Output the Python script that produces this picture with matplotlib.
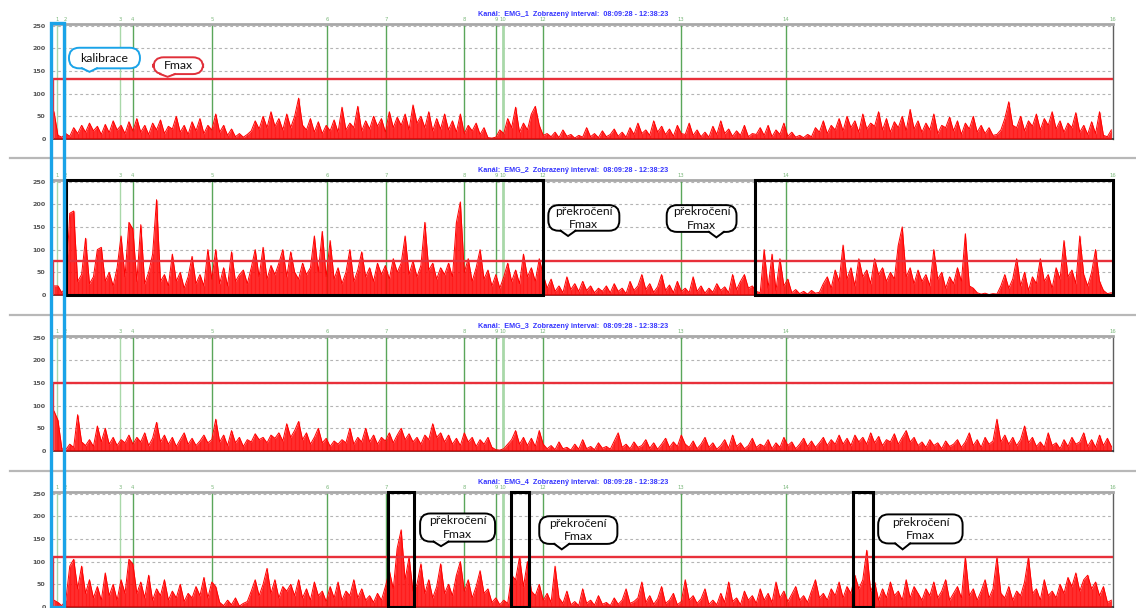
import numpy as np
import matplotlib
matplotlib.use("Agg")
import matplotlib.pyplot as plt
from matplotlib.patches import Rectangle, FancyBboxPatch, Polygon
from matplotlib.lines import Line2D
from matplotlib.transforms import offset_copy, blended_transform_factory

# ---------------- data ----------------
channels = ["EMG_1", "EMG_2", "EMG_3", "EMG_4"]
interval_text = "08:09:28 - 12:38:23"
interval_min = 268.92          # length of displayed interval in minutes
fmax = [132, 75, 150, 110]     # threshold (Fmax) per channel
y_ticks = [0, 50, 100, 150, 200, 250]

marker_labels = ["1", "2", "3", "4", "5", "6", "7", "8", "9", "10", "12", "13", "14", "16"]
marker_t = [1.3, 3.3, 17.2, 20.5, 40.6, 69.7, 84.7, 104.4, 112.5, 114.3, 124.4, 159.4, 186.0, 268.9]
marker_light = [1, 1, 1, 0, 0, 0, 0, 0, 0, 1, 0, 0, 0, 0]

# EMG envelope, one value per minute
emg1 = [60, 8, 4, 12, 6, 25, 12, 30, 15, 35, 18, 28, 10, 32, 14, 40, 20, 30, 12, 38,
        18, 45, 15, 30, 10, 35, 20, 42, 12, 28, 22, 50, 15, 30, 10, 38, 18, 45, 12, 30,
        20, 55, 15, 30, 8, 22, 5, 12, 4, 10, 18, 40, 22, 50, 25, 60, 28, 45, 20, 55,
        25, 50, 90, 30, 20, 45, 15, 38, 12, 30, 18, 42, 15, 70, 20, 35, 25, 72, 18, 40,
        22, 50, 28, 45, 15, 60, 25, 48, 30, 55, 20, 75, 35, 50, 25, 60, 18, 45, 22, 55,
        20, 40, 15, 55, 12, 30, 18, 35, 10, 25, 3, 2, 4, 20, 12, 45, 25, 70, 15, 35,
        20, 55, 72, 30, 8, 12, 5, 15, 3, 20, 6, 10, 2, 8, 4, 25, 5, 12, 3, 18,
        5, 10, 22, 6, 15, 4, 25, 10, 35, 12, 20, 8, 40, 15, 28, 10, 22, 6, 30, 12,
        10, 35, 8, 20, 5, 15, 4, 28, 10, 40, 12, 22, 6, 18, 8, 30, 5, 12, 10, 25,
        8, 30, 5, 20, 10, 35, 6, 15, 4, 8, 3, 10, 5, 25, 15, 40, 12, 30, 20, 45,
        18, 50, 25, 40, 15, 55, 22, 35, 28, 60, 20, 45, 15, 38, 25, 50, 18, 65, 22, 40,
        15, 35, 20, 55, 12, 30, 25, 48, 18, 40, 10, 35, 22, 50, 15, 30, 12, 25, 8, 10,
        20, 45, 82, 30, 25, 50, 18, 40, 28, 55, 20, 45, 30, 60, 22, 40, 15, 35, 25, 58,
        15, 30, 10, 38, 12, 60, 8, 5, 20]

emg2 = [20, 20, 5, 18, 180, 185, 30, 45, 125, 25, 40, 100, 105, 30, 50, 20, 60, 130, 40, 160,
        145, 30, 155, 25, 50, 90, 210, 30, 45, 20, 90, 30, 50, 15, 40, 85, 25, 45, 20, 100,
        35, 100, 25, 60, 20, 95, 30, 45, 55, 25, 60, 100, 40, 105, 35, 65, 45, 70, 100, 40,
        95, 50, 35, 70, 45, 60, 130, 50, 140, 40, 120, 35, 60, 25, 50, 100, 30, 55, 95, 40,
        60, 30, 70, 45, 65, 35, 80, 50, 70, 130, 45, 75, 40, 65, 160, 55, 70, 35, 60, 45,
        70, 40, 160, 205, 50, 80, 30, 60, 100, 35, 55, 20, 45, 15, 40, 70, 30, 55, 25, 90,
        40, 60, 30, 80, 45, 15, 35, 8, 20, 5, 40, 12, 25, 8, 30, 10, 20, 5, 15, 8,
        20, 5, 25, 8, 15, 3, 30, 10, 20, 45, 12, 25, 6, 18, 45, 10, 22, 5, 30, 8,
        15, 5, 40, 8, 20, 4, 15, 6, 25, 10, 18, 5, 45, 12, 30, 45, 15, 20, 8, 5,
        100, 15, 90, 10, 80, 20, 35, 5, 12, 3, 8, 2, 10, 4, 6, 25, 40, 15, 55, 30,
        110, 35, 60, 20, 80, 40, 55, 25, 80, 45, 60, 30, 50, 35, 110, 150, 40, 60, 25, 55,
        30, 45, 20, 100, 35, 50, 15, 40, 25, 60, 30, 135, 20, 15, 5, 2, 4, 1, 3, 2,
        20, 45, 15, 35, 80, 20, 50, 10, 40, 25, 80, 30, 45, 15, 60, 35, 120, 40, 55, 25,
        130, 45, 20, 50, 100, 30, 10, 3, 5]

emg3 = [88, 68, 5, 3, 15, 8, 80, 20, 12, 25, 10, 55, 20, 50, 15, 30, 12, 25, 18, 35,
        15, 30, 20, 40, 12, 28, 63, 20, 35, 15, 30, 10, 25, 40, 15, 28, 12, 22, 35, 18,
        25, 70, 20, 35, 12, 45, 18, 30, 10, 25, 20, 38, 25, 30, 18, 35, 28, 40, 22, 60,
        30, 45, 65, 25, 40, 15, 30, 50, 18, 28, 10, 22, 15, 25, 18, 50, 15, 30, 20, 50,
        20, 35, 15, 30, 22, 40, 18, 35, 50, 25, 38, 20, 30, 15, 35, 25, 60, 30, 40, 20,
        35, 15, 28, 12, 40, 20, 30, 10, 25, 15, 30, 8, 3, 2, 5, 15, 25, 45, 15, 30,
        12, 28, 10, 45, 15, 5, 12, 3, 20, 5, 8, 2, 15, 4, 25, 5, 10, 3, 18, 6,
        10, 4, 22, 40, 8, 15, 5, 20, 8, 12, 25, 6, 18, 4, 15, 28, 8, 20, 10, 35,
        15, 8, 22, 5, 15, 30, 8, 18, 4, 12, 25, 6, 35, 10, 18, 5, 12, 28, 8, 15,
        10, 25, 5, 18, 8, 30, 12, 20, 5, 15, 28, 10, 22, 8, 18, 30, 12, 25, 15, 35,
        15, 28, 12, 35, 20, 30, 15, 40, 18, 32, 12, 25, 20, 38, 15, 30, 45, 20, 30, 12,
        20, 8, 25, 12, 18, 5, 22, 10, 15, 25, 8, 20, 40, 12, 25, 8, 30, 15, 22, 70,
        20, 35, 15, 30, 12, 25, 55, 18, 30, 10, 20, 8, 40, 12, 18, 5, 25, 10, 30, 15,
        20, 40, 10, 25, 8, 35, 12, 28, 10]

emg4 = [15, 10, 3, 15, 90, 105, 40, 90, 30, 60, 20, 45, 15, 75, 25, 50, 15, 60, 30, 105,
        95, 30, 55, 20, 70, 15, 40, 25, 60, 15, 35, 20, 50, 12, 30, 20, 45, 25, 65, 20,
        55, 45, 10, 3, 15, 5, 20, 2, 8, 12, 35, 60, 25, 50, 85, 30, 60, 20, 45, 35,
        50, 25, 60, 20, 40, 15, 55, 25, 35, 12, 45, 20, 55, 15, 35, 25, 60, 20, 40, 15,
        25, 10, 30, 15, 45, 80, 40, 130, 170, 60, 110, 35, 50, 95, 30, 60, 20, 45, 95, 30,
        50, 25, 70, 100, 35, 60, 20, 45, 80, 30, 40, 10, 20, 5, 15, 8, 70, 60, 110, 45,
        100, 35, 25, 50, 15, 30, 10, 90, 20, 8, 35, 5, 12, 3, 40, 8, 15, 4, 25, 6,
        10, 3, 20, 6, 15, 40, 8, 12, 20, 55, 10, 25, 6, 18, 45, 8, 15, 30, 5, 12,
        60, 15, 25, 8, 18, 40, 6, 15, 5, 30, 10, 55, 12, 20, 5, 35, 15, 25, 8, 40,
        15, 30, 10, 55, 20, 35, 12, 28, 45, 15, 25, 10, 35, 60, 20, 30, 15, 40, 25, 55,
        20, 45, 30, 70, 40, 60, 125, 35, 55, 15, 40, 20, 55, 25, 35, 15, 60, 20, 45, 30,
        15, 40, 25, 55, 20, 35, 60, 15, 30, 45, 20, 110, 25, 40, 15, 35, 60, 20, 40, 110,
        30, 20, 45, 15, 35, 25, 55, 110, 30, 40, 15, 60, 25, 35, 20, 50, 30, 65, 45, 75,
        35, 60, 70, 40, 55, 25, 45, 10, 15]

signals = [emg1, emg2, emg3, emg4]

# boxes marking threshold exceedance (panel index, start min, end min)
exceed_panel = [1, 1, 3, 3, 3]
exceed_start = [3.55, 178.2, 85.1, 116.3, 203.0]
exceed_end = [124.4, 268.9, 91.7, 120.9, 208.1]

# ---------------- figure ----------------
W, H = 1136, 608
fig = plt.figure(figsize=(W / 100, H / 100), dpi=100)
fig.patch.set_facecolor("white")

YMAX = 254
ax_left_px, ax_right_px = 52, 1113
ax_h_px = 115.3
axes = []
for k in range(4):
    bottom_px = 139 + 156 * k
    ax = fig.add_axes([ax_left_px / W, 1 - bottom_px / H,
                       (ax_right_px - ax_left_px) / W, ax_h_px / H])
    axes.append(ax)

ASPECT = ((ax_right_px - ax_left_px) / interval_min) / (ax_h_px / YMAX)

RED = "#ff0000"
PINK = "#ff9a9a"
GREEN = "#5aa65a"
LGREEN = "#a9d8a9"


def bubble(ax, x0, x1, y0, y1, tip_x, tip_y, text, ec, fs=8.8):
    box = FancyBboxPatch((x0, y0), x1 - x0, y1 - y0,
                         boxstyle="round,pad=0,rounding_size=2.6",
                         mutation_aspect=ASPECT, fc="white", ec=ec, lw=1.4, zorder=6)
    ax.add_patch(box)
    hw = 1.9
    ax.add_patch(Polygon([(tip_x - hw, y0 + 3), (tip_x + hw, y0 + 3), (tip_x, tip_y)],
                         closed=True, fc="white", ec="none", zorder=7))
    ax.plot([tip_x - hw, tip_x, tip_x + hw], [y0, tip_y, y0], color=ec, lw=1.4,
            zorder=8, solid_joinstyle="miter")
    ax.text((x0 + x1) / 2, (y0 + y1) / 2, text, ha="center", va="center",
            fontsize=fs, family="Lato", zorder=9, linespacing=1.3, color="#111111")


for k, ax in enumerate(axes):
    emg = np.array(signals[k], dtype=float)
    t = np.arange(len(emg)) + 0.5

    ax.set_xlim(0, interval_min)
    ax.set_ylim(0, YMAX)
    ax.set_facecolor("white")

    # grid
    for yv in y_ticks[1:]:
        ax.axhline(yv, color="#b4b4b4", lw=0.8, ls=(0, (2.5, 2.5)), zorder=0.5)

    # markers
    for lab, mt, light in zip(marker_labels, marker_t, marker_light):
        if lab != "16":
            ax.axvline(mt, color=LGREEN if light else GREEN,
                       lw=2.0 if lab == "10" else 1.0, zorder=1)
        ax.text(mt, 1.0, lab, transform=offset_copy(
            blended_transform_factory(ax.transData, ax.transAxes), fig, y=1.5, units="dots"),
            ha="center", va="bottom", fontsize=3.8, color="#7cb87c")

    # signal: pink needles, red filled trace
    ax.vlines(t, 0, emg, color=PINK, lw=1.0, zorder=2)
    ax.fill_between(t, 0, emg, color=RED, lw=0, alpha=0.82, zorder=3)
    ax.plot(t, emg, color=RED, lw=0.7, zorder=3)

    # Fmax threshold
    ax.plot([0.15, 0.15, interval_min], [0, fmax[k], fmax[k]], color="#e8303a",
            lw=1.7, zorder=4)

    # axes styling
    ax.spines["left"].set_visible(False)
    ax.spines["top"].set_color("#a8a8a8")
    ax.spines["top"].set_linewidth(2.0)
    ax.spines["right"].set_color("#606060")
    ax.spines["right"].set_linewidth(1.0)
    ax.spines["bottom"].set_color("#222222")
    ax.spines["bottom"].set_linewidth(1.1)
    ax.set_xticks([])
    ax.set_yticks(y_ticks)
    ax.set_yticklabels([str(v) for v in y_ticks], fontsize=4.6, color="#555555",
                       fontweight="bold")
    ax.tick_params(axis="y", length=0, pad=4.5)

    # title
    ax.text(0.491, 1.0, "Kanál:  %s  Zobrazený interval:  %s" % (channels[k], interval_text),
            transform=offset_copy(ax.transAxes, fig, y=9, units="dots"),
            ha="center", va="center", fontsize=5.2, color="#3535ff",
            fontweight="bold", family="Liberation Sans")

# exceedance boxes
for p, s, e in zip(exceed_panel, exceed_start, exceed_end):
    axes[p].add_patch(Rectangle((s, 0.5), e - s, YMAX - 2, fill=False, ec="black",
                                lw=2.2, zorder=5, clip_on=False))

# callouts
bubble(axes[0], 4.3, 22.3, 155.7, 201, 9.5, 148, "kalibrace", "#1aa3e8")
bubble(axes[0], 25.7, 38.3, 143, 180, 29.3, 137, "Fmax", "#e0303a")
bubble(axes[1], 125.8, 143.8, 141.6, 198, 130.8, 130, "překročení\nFmax", "black")
bubble(axes[1], 155.8, 173.5, 139, 198, 168.4, 127, "překročení\nFmax", "black")
bubble(axes[3], 93.3, 112.3, 144, 206, 98.6, 134, "překročení\nFmax", "black")
bubble(axes[3], 123.5, 143.3, 139, 200, 129.2, 127, "překročení\nFmax", "black")
bubble(axes[3], 209.4, 230.8, 140, 204, 215.6, 127, "překročení\nFmax", "black")

# separators between channels
for ypx in [158, 315, 471]:
    fig.add_artist(Line2D([10 / W, 1.0], [1 - ypx / H, 1 - ypx / H],
                          color="#b8b8b8", lw=1.6, transform=fig.transFigure))

# calibration frame (spans all channels)
inv = fig.transFigure.inverted()
p_top = inv.transform(axes[0].transData.transform((-0.25, YMAX + 1)))
p_bot = inv.transform(axes[3].transData.transform((3.05, 0)))
fig.add_artist(Rectangle((p_top[0], p_bot[1]), p_bot[0] - p_top[0], p_top[1] - p_bot[1],
                         fill=False, ec="#1aa3e8", lw=2.4, transform=fig.transFigure,
                         zorder=10))

fig.savefig("out.png", dpi=100, facecolor="white")
